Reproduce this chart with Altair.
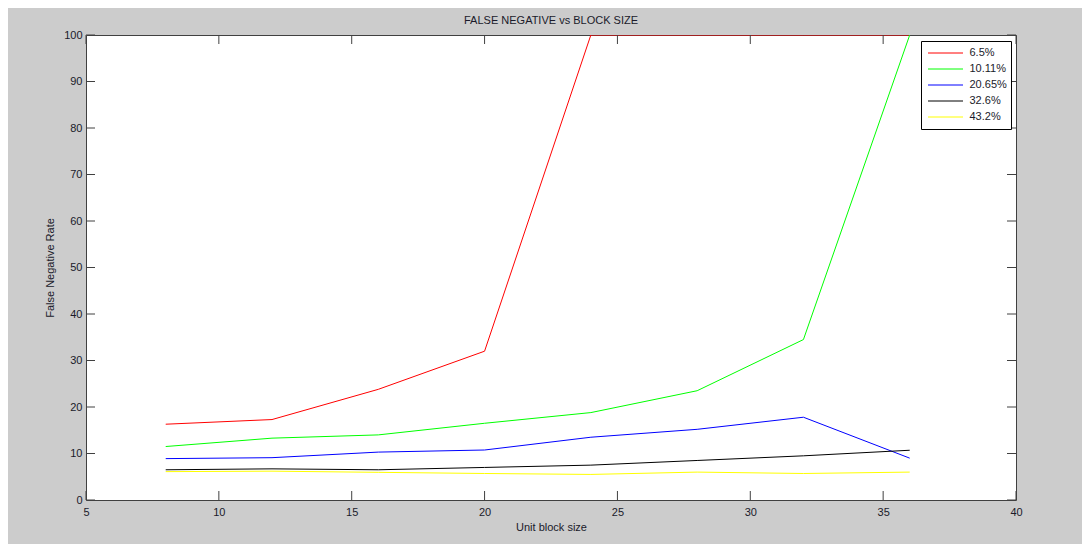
import altair as alt
import pandas as pd

# ---- data ----
block_sizes = [8, 12, 16, 20, 24, 28, 32, 36]
series_names = ["6.5%", "10.11%", "20.65%", "32.6%", "43.2%"]
series_colors = ["#ff0000", "#00ff00", "#0000ff", "#000000", "#ffff00"]
fn_6_5 = [16.3, 17.3, 23.8, 32.0, 100, 100, 100, 100]
fn_10_11 = [11.5, 13.3, 14.0, 16.5, 18.8, 23.5, 34.5, 100]
fn_20_65 = [8.9, 9.1, 10.3, 10.75, 13.5, 15.2, 17.8, 9.0]
fn_32_6 = [6.5, 6.7, 6.5, 7.0, 7.5, 8.5, 9.5, 10.7]
fn_43_2 = [6.1, 6.2, 5.95, 5.7, 5.5, 6.0, 5.7, 6.0]
x_ticks = [5, 10, 15, 20, 25, 30, 35, 40]
y_ticks = [0, 10, 20, 30, 40, 50, 60, 70, 80, 90, 100]

all_series = [fn_6_5, fn_10_11, fn_20_65, fn_32_6, fn_43_2]
rows = []
for name, vals in zip(series_names, all_series):
    for x, v in zip(block_sizes, vals):
        rows.append({"x": x, "y": v, "series": name})
df = pd.DataFrame(rows)
xt = pd.DataFrame({"t": x_ticks})
yt = pd.DataFrame({"t": y_ticks})

W, H = 930, 465
FONT = "Liberation Sans"
AX = "#404040"
TXT = "#1a1a2a"
TICK = 9

xscale = alt.Scale(domain=[5, 40], nice=False, zero=False)
yscale = alt.Scale(domain=[0, 100], nice=False)
xaxis = alt.Axis(values=x_ticks, title="Unit block size", tickSize=0, labelFlush=False,
                 domain=False, grid=False, labelPadding=6, titlePadding=4, format="d")
yaxis = alt.Axis(values=y_ticks, title="False Negative Rate", tickSize=0, labelFlush=False,
                 domain=False, grid=False, labelPadding=4, titlePadding=8, format="d")

lines = alt.Chart(df).mark_line(strokeWidth=1, clip=True).encode(
    x=alt.X("x:Q", scale=xscale, axis=xaxis),
    y=alt.Y("y:Q", scale=yscale, axis=yaxis),
    color=alt.Color("series:N",
                    scale=alt.Scale(domain=series_names, range=series_colors),
                    sort=series_names,
                    legend=alt.Legend(title=None, orient="none", legendX=835, legendY=6,
                                      symbolType="stroke", symbolStrokeWidth=1,
                                      symbolSize=1225, labelFont=FONT, labelFontSize=11,
                                      labelColor=TXT, strokeColor="#000000",
                                      fillColor="#ffffff", padding=4, rowPadding=0,
                                      clipHeight=16, symbolOffset=2.5,
                                      labelOffset=6)),
    order=alt.Order("series:N"),
)

bottom_ticks = alt.Chart(xt).mark_rule(color=AX, strokeWidth=1).encode(
    x=alt.X("t:Q", scale=xscale, axis=xaxis), y=alt.value(H), y2=alt.value(H - TICK))
top_ticks = alt.Chart(xt).mark_rule(color=AX, strokeWidth=1).encode(
    x=alt.X("t:Q", scale=xscale, axis=xaxis), y=alt.value(0), y2=alt.value(TICK))
left_ticks = alt.Chart(yt).mark_rule(color=AX, strokeWidth=1).encode(
    y=alt.Y("t:Q", scale=yscale, axis=yaxis), x=alt.value(0), x2=alt.value(TICK))
right_ticks = alt.Chart(yt).mark_rule(color=AX, strokeWidth=1).encode(
    y=alt.Y("t:Q", scale=yscale, axis=yaxis), x=alt.value(W), x2=alt.value(W - TICK))

chart = alt.layer(lines, bottom_ticks, top_ticks, left_ticks, right_ticks).properties(
    width=W, height=H,
    title=alt.TitleParams("FALSE NEGATIVE vs BLOCK SIZE", font=FONT, fontSize=11,
                          fontWeight="normal", color=TXT, anchor="middle", offset=3),
    autosize=alt.AutoSizeParams(type="none"),
    padding={"left": 78, "top": 27, "right": 66, "bottom": 44},
    background="#cccccc",
).configure_view(
    fill="#ffffff", stroke=AX, strokeWidth=1
).configure_axis(
    labelFont=FONT, labelFontSize=11, labelColor=TXT,
    titleFont=FONT, titleFontSize=11, titleFontWeight="normal", titleColor=TXT,
)

chart.save("out.html", embed_options={"renderer": "svg", "actions": False})
